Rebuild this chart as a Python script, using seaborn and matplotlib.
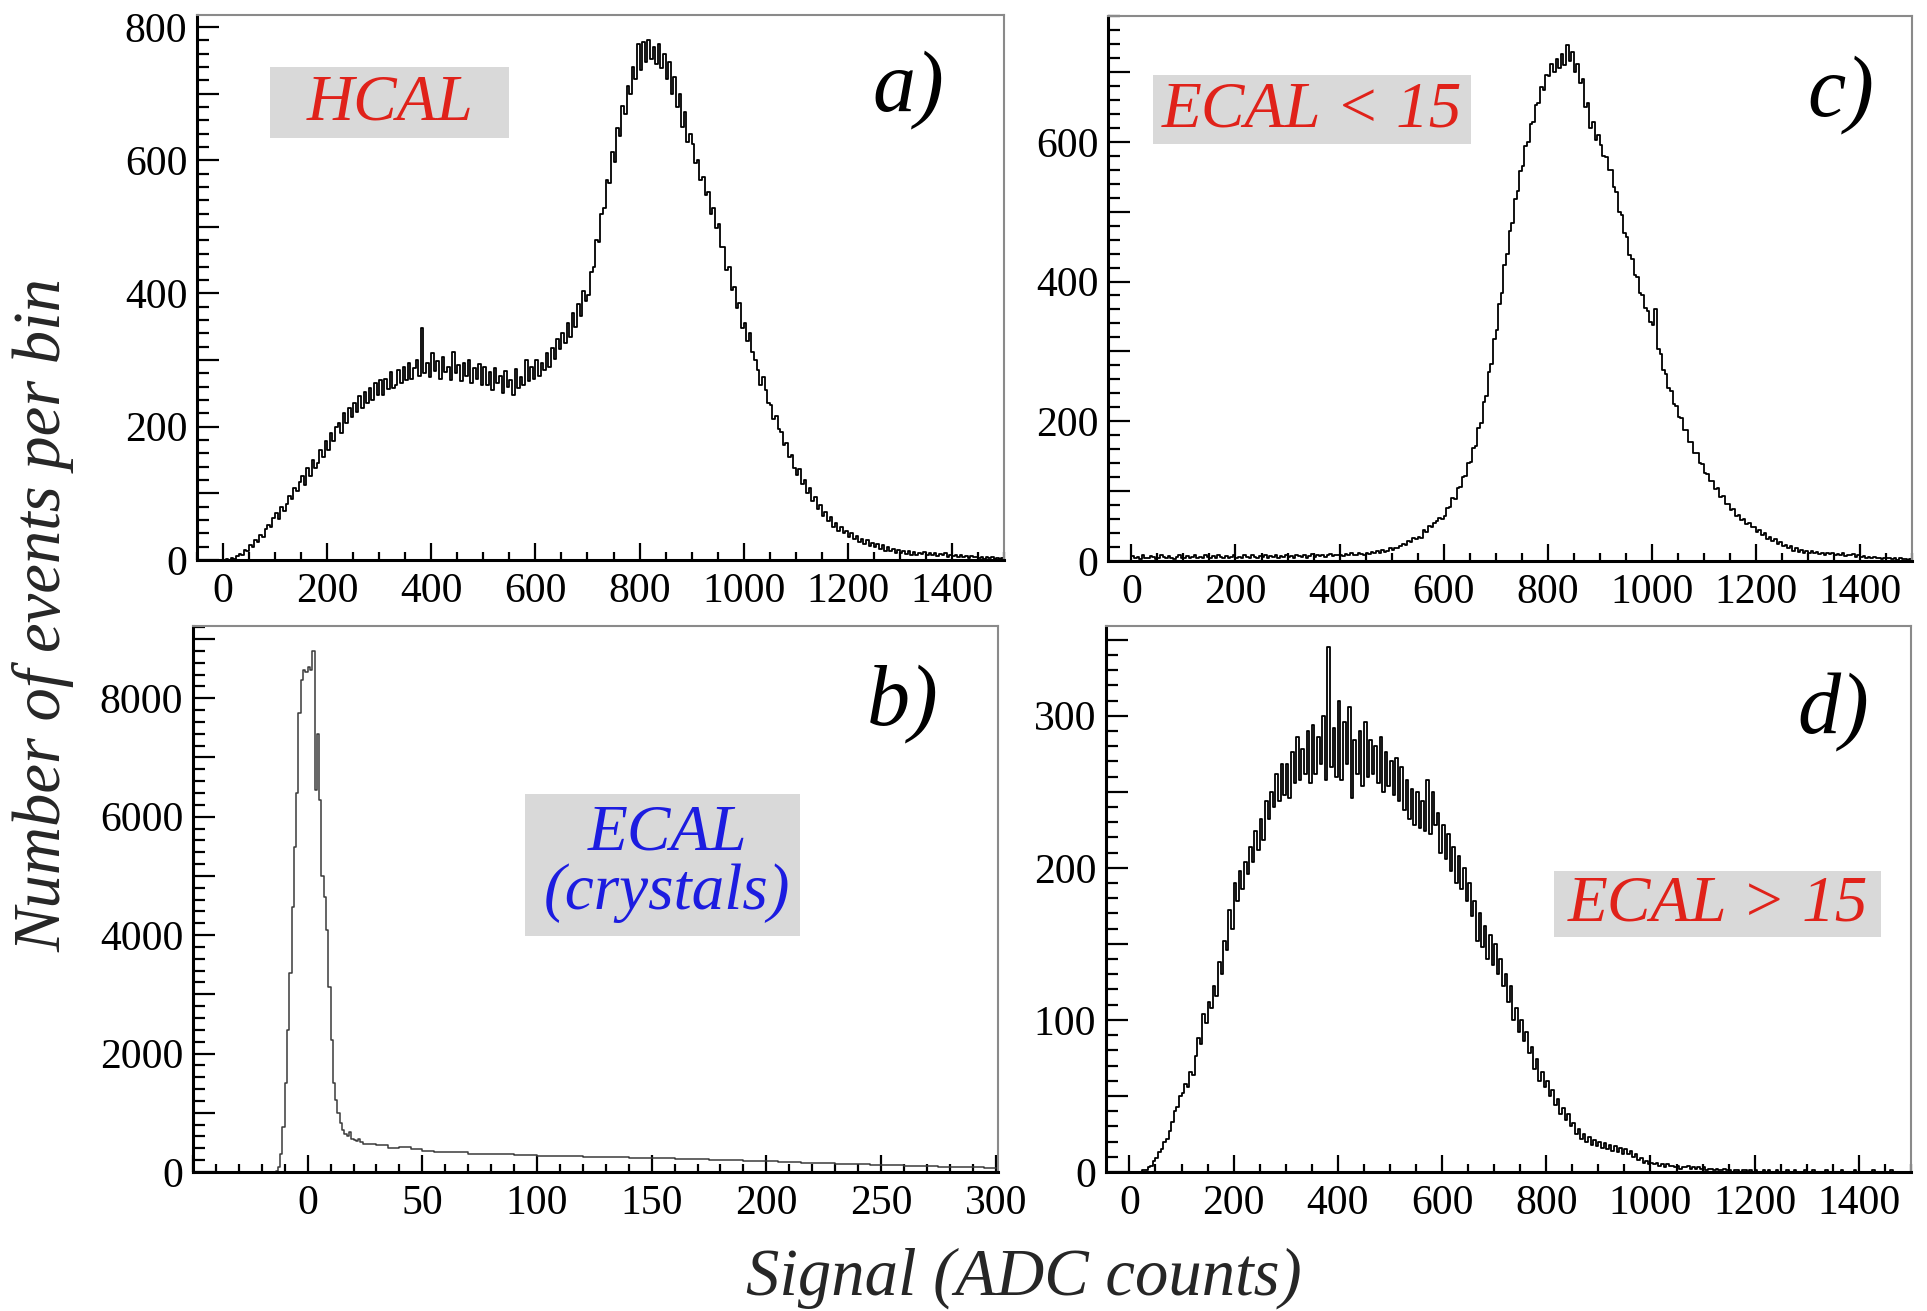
import pandas as pd
import matplotlib
matplotlib.use("Agg")
import matplotlib.pyplot as plt
from matplotlib.patches import Rectangle
from matplotlib.ticker import MultipleLocator, FuncFormatter
import seaborn as sns

# ---- data: events per bin ----
# a) HCAL, 5 ADC bins from 0 to 1500
hcal_counts = [
    0, 1, 0, 3, 2, 6, 9, 8, 15, 14, 22, 19, 30, 27, 38, 34, 47, 52, 50, 63,
    70, 62, 80, 74, 84, 96, 92, 108, 104, 117, 126, 112, 138, 126, 150, 138, 146, 165, 155, 178,
    165, 190, 178, 200, 206, 190, 220, 205, 228, 214, 236, 222, 246, 228, 252, 236, 258, 240, 265, 248,
    270, 248, 272, 256, 282, 258, 262, 285, 266, 290, 270, 295, 272, 288, 300, 276, 348, 280, 296, 274,
    310, 284, 298, 272, 305, 282, 290, 270, 312, 280, 292, 268, 296, 276, 300, 266, 288, 272, 294, 262,
    290, 262, 282, 255, 288, 266, 276, 250, 284, 260, 270, 248, 286, 258, 275, 262, 300, 268, 290, 272,
    300, 276, 296, 285, 310, 290, 318, 302, 332, 316, 340, 326, 356, 334, 370, 350, 384, 366, 404, 388,
    398, 432, 440, 480, 478, 520, 528, 570, 566, 612, 598, 648, 636, 682, 670, 712, 700, 740, 722, 775,
    735, 778, 748, 780, 752, 770, 745, 775, 738, 760, 722, 748, 700, 725, 680, 700, 650, 672, 628, 640,
    625, 596, 600, 570, 575, 548, 552, 520, 528, 498, 505, 470, 470, 436, 440, 405, 410, 378, 385, 348,
    355, 328, 340, 312, 300, 285, 262, 275, 255, 236, 232, 212, 216, 196, 192, 172, 175, 155, 158, 138,
    128, 136, 114, 120, 100, 108, 88, 94, 76, 82, 66, 72, 58, 64, 50, 56, 44, 49, 40, 44,
    35, 40, 31, 36, 27, 32, 24, 30, 21, 26, 19, 24, 16, 22, 14, 19, 13, 17, 11, 15,
    11, 14, 9, 13, 8, 12, 7, 11, 9, 12, 7, 10, 8, 11, 6, 9, 7, 10, 5, 8,
    6, 8, 4, 7, 5, 6, 3, 6, 4, 5, 3, 5, 2, 4, 3, 4, 2, 3, 2, 3,
]

# b) ECAL crystals: 1 ADC bins from -15 to 25, then 5 ADC bins up to 300
ecal_peak_counts = [
    0, 10, 80, 300, 760, 1500, 2400, 3360, 4480, 5490,
    6400, 7750, 8310, 8480, 8450, 8520, 8470, 8800, 6450, 7400,
    6280, 5000, 4650, 4090, 3130, 2230, 1500, 1215, 990, 820,
    710, 640, 600, 680, 560, 540, 520, 560, 500, 470,
]
ecal_tail_counts = [
    480, 455, 400, 420, 385, 360, 345, 330, 335, 310,
    305, 298, 300, 285, 288, 275, 278, 265, 270, 258,
    255, 250, 252, 242, 240, 232, 228, 225, 215, 212,
    205, 200, 195, 190, 184, 178, 175, 168, 160, 155,
    150, 142, 138, 130, 125, 118, 112, 105, 100, 94,
    88, 84, 80, 76, 72,
]

# c) HCAL with ECAL < 15, 5 ADC bins
low_counts = [
    7, 4, 6, 3, 8, 5, 4, 7, 6, 3, 5, 8, 6, 4, 7, 5, 3, 6, 8, 5,
    4, 7, 5, 6, 9, 4, 6, 5, 8, 6, 4, 7, 5, 9, 6, 4, 7, 5, 6, 8,
    5, 6, 4, 8, 6, 5, 9, 6, 4, 7, 6, 8, 5, 7, 6, 9, 5, 7, 6, 8,
    6, 7, 5, 9, 7, 6, 8, 5, 7, 10, 6, 8, 7, 9, 6, 8, 10, 7, 9, 8,
    9, 7, 10, 8, 11, 9, 8, 12, 10, 9, 12, 10, 13, 11, 14, 12, 16, 13, 15, 18,
    16, 19, 18, 22, 24, 23, 28, 27, 33, 32, 34, 33, 44, 42, 50, 48, 55, 57, 62, 60,
    64, 76, 78, 90, 89, 104, 106, 120, 122, 140, 142, 162, 165, 190, 198, 228, 236, 270, 282, 318,
    330, 368, 384, 424, 440, 472, 484, 518, 530, 558, 566, 594, 600, 626, 628, 652, 655, 678, 674, 696,
    694, 712, 700, 718, 706, 725, 710, 738, 716, 728, 700, 712, 684, 690, 650, 656, 620, 628, 602, 610,
    596, 580, 578, 560, 560, 535, 528, 500, 495, 470, 464, 438, 432, 410, 406, 384, 380, 362, 358, 342,
    338, 360, 304, 296, 274, 268, 248, 244, 224, 222, 206, 204, 188, 188, 171, 170, 154, 155, 140, 139,
    126, 125, 115, 114, 103, 104, 92, 93, 82, 82, 73, 74, 65, 66, 59, 60, 53, 54, 48, 49,
    42, 45, 37, 40, 32, 35, 28, 31, 24, 27, 21, 23, 18, 21, 15, 18, 13, 16, 12, 14,
    12, 14, 11, 13, 10, 12, 9, 11, 10, 12, 8, 10, 9, 11, 7, 9, 8, 10, 6, 8,
    6, 7, 5, 6, 4, 6, 4, 5, 3, 5, 4, 5, 3, 4, 2, 4, 3, 3, 2, 3,
]

# d) HCAL with ECAL > 15, 5 ADC bins
high_counts = [
    0, 0, 0, 0, 0, 1, 1, 3, 4, 7, 9, 13, 15, 20, 22, 27, 33, 40, 43, 50,
    52, 58, 56, 66, 64, 76, 88, 84, 104, 98, 112, 108, 122, 116, 138, 130, 152, 146, 172, 160,
    190, 178, 198, 186, 204, 196, 214, 204, 224, 212, 232, 218, 244, 232, 250, 240, 262, 244, 268, 248,
    268, 246, 276, 256, 286, 258, 278, 262, 290, 256, 294, 262, 286, 268, 300, 258, 345, 266, 292, 260,
    310, 258, 296, 268, 306, 246, 284, 262, 290, 254, 296, 260, 284, 262, 280, 256, 286, 250, 276, 254,
    270, 248, 272, 244, 266, 238, 258, 232, 252, 228, 250, 226, 244, 224, 258, 222, 250, 228, 236, 210,
    228, 206, 222, 198, 214, 190, 208, 186, 200, 178, 190, 168, 178, 152, 170, 148, 162, 140, 156, 136,
    150, 130, 140, 122, 130, 112, 122, 100, 108, 92, 100, 86, 92, 78, 82, 68, 74, 60, 66, 56,
    60, 50, 54, 44, 48, 38, 42, 34, 38, 30, 32, 25, 28, 22, 25, 20, 23, 18, 21, 17,
    20, 16, 19, 15, 18, 14, 17, 13, 16, 12, 15, 12, 14, 10, 12, 8, 9, 6, 7, 5,
    6, 5, 6, 4, 5, 3, 5, 4, 4, 3, 4, 2, 3, 3, 4, 2, 3, 2, 3, 2,
    3, 1, 2, 2, 1, 2, 1, 1, 2, 1, 1, 0, 1, 1, 0, 1, 1, 0, 1, 0,
    1, 0, 0, 1, 0, 1, 0, 0, 1, 0, 0, 0, 1, 0, 0, 1, 0, 0, 0, 1,
    0, 0, 1, 0, 0, 0, 0, 1, 0, 0, 0, 0, 0, 1, 0, 0, 0, 0, 1, 0,
    0, 0, 0, 0, 0, 1, 0, 0, 0, 0, 0, 0, 1, 0, 0, 0, 0, 0, 0, 0,
]

hcal_edges = list(range(0, 1501, 5))
ecal_edges = list(range(-15, 25, 1)) + list(range(25, 301, 5))
ecal_counts = ecal_peak_counts + ecal_tail_counts

RED = "#e0221a"
BLUE = "#1c1ce0"
BOX = "#d9d9d9"

sns.set_theme(style="ticks")
plt.rcParams["font.family"] = ["Liberation Serif", "DejaVu Serif"]

fig = plt.figure(figsize=(19.27, 13.11), dpi=100)
W, H = 1927, 1311


def add_ax(l, t, r, b):
    return fig.add_axes([l / W, 1 - b / H, (r - l) / W, (b - t) / H])


ax_a = add_ax(197, 15, 1004, 560)
ax_c = add_ax(1108, 16, 1912, 561)
ax_b = add_ax(193, 626, 998, 1172)
ax_d = add_ax(1106, 626, 1911, 1172)


def draw_hist(ax, edges, counts, color="black", lw=1.3):
    edges = [float(e) for e in edges]
    centers = [(lo + hi) / 2 for lo, hi in zip(edges[:-1], edges[1:])]
    df = pd.DataFrame({"signal": centers, "events": counts})
    sns.histplot(data=df, x="signal", weights="events", bins=edges,
                 element="step", fill=False, color=color, linewidth=lw, ax=ax)


def style_axis(ax, xlim, ylim, xmaj, xmin, ymaj, ymin, ylab_step):
    ax.set_xlim(*xlim)
    ax.set_ylim(*ylim)
    ax.set_xlabel("")
    ax.set_ylabel("")
    ax.xaxis.set_major_locator(MultipleLocator(xmaj))
    ax.xaxis.set_minor_locator(MultipleLocator(xmin))
    ax.yaxis.set_major_locator(MultipleLocator(ymaj))
    ax.yaxis.set_minor_locator(MultipleLocator(ymin))
    ax.xaxis.set_major_formatter(FuncFormatter(
        lambda v, p: f"{v:.0f}" if v > -1 else ""))
    ax.yaxis.set_major_formatter(FuncFormatter(
        lambda v, p: f"{v:.0f}" if abs(v / ylab_step - round(v / ylab_step)) < 1e-6 else ""))
    ax.tick_params(axis="both", which="both", direction="in", top=False,
                   right=False, width=1.6, color="black", labelsize=30,
                   labelcolor="black")
    ax.tick_params(axis="y", which="major", length=16, pad=7)
    ax.tick_params(axis="y", which="minor", length=8.5)
    ax.tick_params(axis="x", which="major", length=12, pad=9)
    ax.tick_params(axis="x", which="minor", length=5.5)
    for side in ["left", "bottom"]:
        ax.spines[side].set_color("black")
        ax.spines[side].set_linewidth(2.2)
    for side in ["top", "right"]:
        ax.spines[side].set_color("#8a8a8a")
        ax.spines[side].set_linewidth(1.5)
        ax.spines[side].set_visible(True)
    ax.set_facecolor("white")


def tag(ax, box, text, color, pos, size=47):
    x0, y0, x1, y1 = box
    ax.add_patch(Rectangle((x0, y0), x1 - x0, y1 - y0, transform=ax.transAxes,
                           facecolor=BOX, edgecolor="none", zorder=3))
    ax.text(pos[0], pos[1], text, transform=ax.transAxes, color=color,
            fontsize=size, style="italic", ha="center", va="center",
            linespacing=1.0, zorder=4)


draw_hist(ax_a, hcal_edges, hcal_counts)
draw_hist(ax_c, hcal_edges, low_counts)
draw_hist(ax_b, ecal_edges, ecal_counts, color="#3a3a3a", lw=1.1)
draw_hist(ax_d, hcal_edges, high_counts)

style_axis(ax_a, (-50, 1500), (0, 818), 200, 50, 100, 20, 200)
style_axis(ax_c, (-45, 1500), (0, 780), 200, 50, 100, 20, 200)
style_axis(ax_b, (-50, 301), (0, 9220), 50, 10, 1000, 200, 2000)
style_axis(ax_d, (-45, 1500), (0, 359), 200, 50, 50, 10, 100)

tag(ax_a, (0.0905, 0.774, 0.3866, 0.904), "HCAL", RED, (0.239, 0.838))
tag(ax_c, (0.0555, 0.765, 0.452, 0.892), "ECAL < 15", RED, (0.254, 0.826))
tag(ax_b, (0.413, 0.433, 0.754, 0.692), "ECAL\n(crystals)", BLUE, (0.589, 0.565))
tag(ax_d, (0.557, 0.431, 0.963, 0.551), "ECAL > 15", RED, (0.76, 0.489))

for ax, lab, pos in [(ax_a, "a)", (0.881, 0.862)), (ax_c, "c)", (0.911, 0.855)),
                     (ax_b, "b)", (0.882, 0.857)), (ax_d, "d)", (0.904, 0.841))]:
    ax.text(pos[0], pos[1], lab, transform=ax.transAxes, fontsize=62,
            style="italic", ha="center", va="center", color="black")

fig.text(43 / W, 1 - 615 / H, "Number of events per bin", rotation=90,
         fontsize=48, style="italic", ha="center", va="center")
fig.text(1024 / W, 1 - 1278 / H, "Signal (ADC counts)", fontsize=48,
         style="italic", ha="center", va="center")

fig.savefig("out.png", dpi=100, facecolor="white")
